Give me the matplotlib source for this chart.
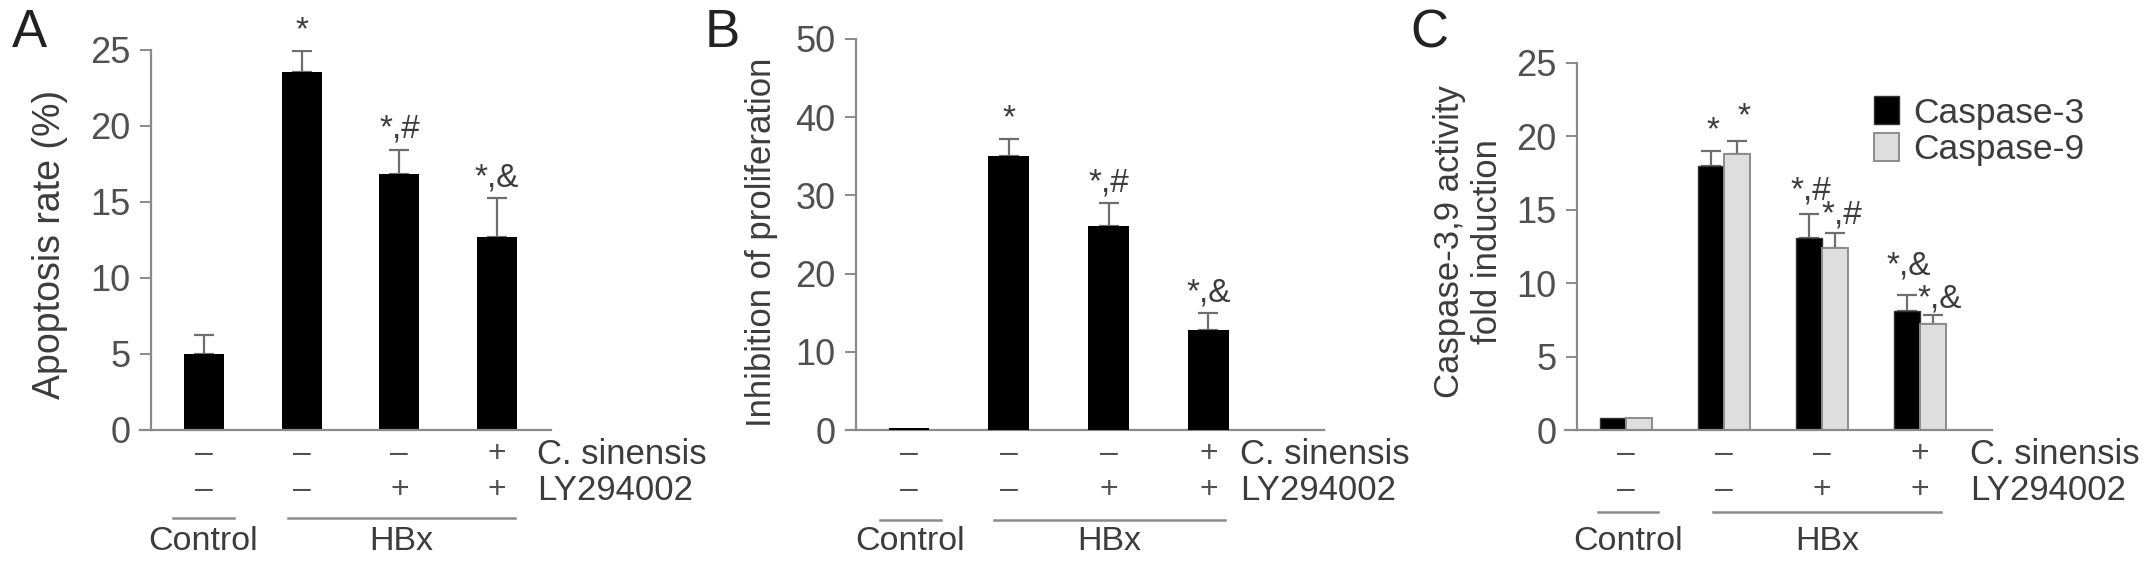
import numpy as np
import matplotlib
matplotlib.use("Agg")
from matplotlib import pyplot as plt
from matplotlib import transforms

plt.rcParams['font.family'] = ['Liberation Sans Narrow', 'Liberation Sans', 'DejaVu Sans']

# data
groups = ['Control', 'HBx', 'HBx', 'HBx']
sinensis = ['–', '–', '–', '+']
ly294002 = ['–', '–', '+', '+']

apoptosis = [5.0, 23.5, 16.8, 12.7]
apoptosis_err = [1.2, 1.4, 1.6, 2.5]
apoptosis_sig = ['', '*', '*,#', '*,&']

inhibition = [0.25, 35.0, 26.1, 12.8]
inhibition_err = [0.0, 2.2, 2.9, 2.1]
inhibition_sig = ['', '*', '*,#', '*,&']

casp3 = [0.8, 18.0, 13.1, 8.1]
casp3_err = [0.0, 1.0, 1.6, 1.1]
casp3_sig = ['', '*', '*,#', '*,&']
casp9 = [0.8, 18.8, 12.4, 7.2]
casp9_err = [0.0, 0.9, 1.0, 0.6]
casp9_sig = ['', '*', '*,#', '*,&']

W, H = 2150, 566
TXT = '#3c3c3c'
AXC = '#8a8a8a'

fig = plt.figure(figsize=(W / 100, H / 100), dpi=100)


def px_axes(x0, x1, y0, y1):
    # pixel box -> figure fraction
    return fig.add_axes([x0 / W, 1 - y1 / H, (x1 - x0) / W, (y1 - y0) / H])


def style(ax, ymax, step, spine_px, left_px, right_px):
    ax.set_ylim(0, ymax)
    ax.set_yticks(np.arange(0, ymax + 0.1, step))
    for s in ['top', 'right']:
        ax.spines[s].set_visible(False)
    for s in ['left', 'bottom']:
        ax.spines[s].set_color(AXC)
        ax.spines[s].set_linewidth(1.6)
    ax.spines['left'].set_position(('axes', (spine_px - left_px) / (right_px - left_px)))
    ax.set_xticks([])
    ax.tick_params(axis='y', length=8, width=1.4, color=AXC, pad=7,
                   labelsize=26, labelcolor='#505050')
    ax.set_facecolor('none')


def bottom_labels(ax, xs, row1_x, ctrl_span, hbx_span, line_y):
    tr = transforms.blended_transform_factory(ax.transData, fig.transFigure)
    for i, x in enumerate(xs):
        ax.text(x, 1 - 454 / H, sinensis[i], transform=tr, ha='center', va='center',
                fontsize=23, color='#505050', clip_on=False)
        ax.text(x, 1 - 490 / H, ly294002[i], transform=tr, ha='center', va='center',
                fontsize=23, color='#505050', clip_on=False)
    fig.text(row1_x / W, 1 - 454 / H, 'C. sinensis', ha='left', va='center',
             fontsize=25, color=TXT)
    fig.text(row1_x / W, 1 - 490 / H, 'LY294002', ha='left', va='center',
             fontsize=25, color=TXT)
    for (a, b), name in [(ctrl_span, 'Control'), (hbx_span, 'HBx')]:
        fig.add_artist(plt.Line2D([a / W, b / W], [1 - line_y / H] * 2,
                                  color=AXC, lw=1.8))
        fig.text((a + b) / 2 / W, 1 - 541 / H, name, ha='center', va='center',
                 fontsize=24.5, color=TXT)


def annotate(ax, x, top, labels, extra=None):
    if extra is None:
        extra = [0] * len(labels)
    for xi, t, lab, e in zip(x, top, labels, extra):
        if lab:
            ax.annotate(lab, (xi, t), xytext=(0, 3.5 + e), textcoords='offset points',
                        ha='center', va='bottom', fontsize=24, color=TXT,
                        annotation_clip=False)


err_kw = dict(ecolor='#6e6e6e', elinewidth=1.6, capsize=7, capthick=1.6)
x = np.arange(4)

# ---- A
axA = px_axes(140, 551, 49.5, 429.6)
scale = 97.7
axA.set_xlim((140 - 204) / scale, (551 - 204) / scale)
style(axA, 25, 5, 151, 140, 551)
axA.bar(x, apoptosis, 0.41, color='black', zorder=2)
axA.errorbar(x, apoptosis, yerr=[np.zeros(4), apoptosis_err], fmt='none', zorder=1, **err_kw)
annotate(axA, x, np.add(apoptosis, apoptosis_err), apoptosis_sig)
bottom_labels(axA, x, 537, (173, 234), (288, 515), 518)
fig.text(50 / W, 1 - 244 / H, 'Apoptosis rate (%)', rotation=90, ha='center', va='center',
         fontsize=27, color=TXT)
fig.text(12 / W, 1 - 33 / H, 'A', ha='left', va='center', fontsize=38, color='#222222')

# ---- B
axB = px_axes(846, 1324, 39, 430)
scale = 99.8
axB.set_xlim((846 - 909) / scale, (1324 - 909) / scale)
style(axB, 50, 10, 856, 846, 1324)
axB.bar(x, inhibition, 0.41, color='black', zorder=3)
axB.errorbar(x[1:], inhibition[1:], yerr=[np.zeros(3), inhibition_err[1:]], fmt='none',
             zorder=1, **err_kw)
annotate(axB, x, np.add(inhibition, inhibition_err), inhibition_sig)
bottom_labels(axB, x, 1240, (880, 941), (994, 1225), 520)
fig.text(762 / W, 1 - 242 / H, 'Inhibition of proliferation', rotation=90, ha='center',
         va='center', fontsize=25, color=TXT)
fig.text(705 / W, 1 - 33 / H, 'B', ha='left', va='center', fontsize=38, color='#222222')

# ---- C
axC = px_axes(1565, 1992, 63, 430)
scale = 98
axC.set_xlim((1565 - 1626) / scale, (1992 - 1626) / scale)
style(axC, 25, 5, 1577, 1565, 1992)
bw = 0.27
axC.bar(x - bw / 2, casp3, bw, color='black', edgecolor='#333333', lw=1, zorder=2,
        label='Caspase-3')
axC.bar(x + bw / 2, casp9, bw, color='#dedede', edgecolor='#8c8c8c', lw=1.4, zorder=2,
        label='Caspase-9')
axC.errorbar(x[1:] - bw / 2, casp3[1:], yerr=[np.zeros(3), casp3_err[1:]], fmt='none',
             zorder=1, **err_kw)
axC.errorbar(x[1:] + bw / 2, casp9[1:], yerr=[np.zeros(3), casp9_err[1:]], fmt='none',
             zorder=1, **err_kw)
annotate(axC, x - bw / 2 + 0.02, np.add(casp3, casp3_err), casp3_sig, [0, 0, 2, 6])
annotate(axC, x + bw / 2 + 0.07, np.add(casp9, casp9_err), casp9_sig, [0, 2.6, -1.8, -3])
leg = axC.legend(loc='upper left', bbox_to_anchor=((1860 - 1565) / 427, 1 - (82 - 63) / 367),
                 frameon=False, fontsize=25.5, handlelength=0.7, handleheight=0.85,
                 handletextpad=0.4, labelspacing=0.1, borderaxespad=0)
for t in leg.get_texts():
    t.set_color(TXT)
bottom_labels(axC, x, 1970, (1598, 1658), (1713, 1941), 512)
fig.text(1450 / W, 1 - 242 / H, 'Caspase-3,9 activity', rotation=90, ha='center',
         va='center', fontsize=25, color=TXT)
fig.text(1488 / W, 1 - 242 / H, 'fold induction', rotation=90, ha='center',
         va='center', fontsize=25, color=TXT)
fig.text(1410 / W, 1 - 33 / H, 'C', ha='left', va='center', fontsize=38, color='#222222')

fig.savefig('out.png', dpi=100)
